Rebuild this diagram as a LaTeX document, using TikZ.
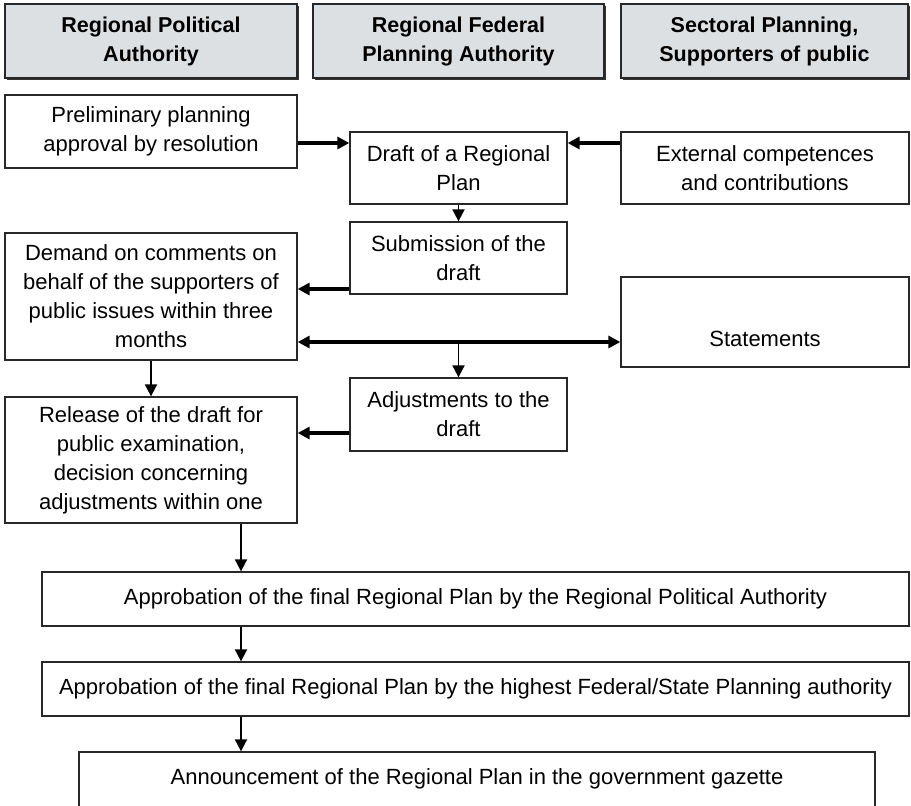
\documentclass[tikz,border=0pt]{standalone}
\usepackage{fontspec}
\setmainfont{Liberation Sans}
\usetikzlibrary{positioning}
\usetikzlibrary{arrows.meta}
\usetikzlibrary{shadows}
\definecolor{headgray}{RGB}{221,224,227}
\definecolor{edge}{RGB}{40,40,40}

\begin{document}
\begin{tikzpicture}[x=1pt,y=-1pt,
			head/.style={rectangle, draw=edge, fill=headgray, line width=1.3pt, drop shadow={shadow xshift=1.5pt, shadow yshift=-1.5pt, fill=black!80, opacity=1}, align=center, inner sep=0pt, font=\fontsize{21.5}{29}\selectfont\bfseries},
			box/.style={rectangle, draw=edge, fill=white, line width=1.3pt, align=center, inner sep=0pt, font=\fontsize{22}{29}\selectfont},
			>={Triangle[length=12pt,width=12pt]},
			arrow/.style={->, line width=1.8pt},
			heavy/.style={line width=3.2pt}
		]
			\useasboundingbox (0,0) rectangle (911,806);
			\clip (0,0) rectangle (911,806);

			% Column heads
			\node[head, minimum width=292pt, minimum height=74pt] (political) at (151,41) {Regional Political\\Authority};
			\node[head, minimum width=291pt, minimum height=74pt] (federal) at (458.5,41) {Regional Federal\\Planning Authority};
			\node[head, minimum width=287pt, minimum height=74pt] (sectoral) at (764.5,41) {Sectoral Planning,\\Supporters of public};

			% Boxes
			\node[box, minimum width=292pt, minimum height=73pt] (prelim) at (151,131.5) {Preliminary planning\\approval by resolution};
			\node[box, minimum width=217pt, minimum height=72pt] (draft) at (458.5,168) {Draft of a Regional\\Plan};
			\node[box, minimum width=288pt, minimum height=72pt] (external) at (765,168) {External competences\\and contributions};
			\node[box, minimum width=217pt, minimum height=72pt] (submission) at (458.5,258) {Submission of the\\draft};
			\node[box, minimum width=292pt, minimum height=127pt] (demand) at (151,296.5) {Demand on comments on\\behalf of the supporters of\\public issues within three\\months};
			\node[box, minimum width=288pt, minimum height=90pt] (statements) at (765,322) {\mbox{}\\[20pt]Statements};
			\node[box, minimum width=217pt, minimum height=73pt] (adjust) at (458.5,414.5) {Adjustments to the\\draft};
			\node[box, minimum width=292pt, minimum height=126pt] (release) at (151,460) {Release of the draft for\\public examination,\\decision concerning\\adjustments within one};
			\node[box, minimum width=867pt, minimum height=54pt] (approRPA) at (475.5,599) {Approbation of the final Regional Plan by the Regional Political Authority};
			\node[box, minimum width=867pt, minimum height=54pt] (approFed) at (475.5,689) {Approbation of the final Regional Plan by the highest Federal/State Planning authority};
			\node[box, minimum width=796pt, minimum height=78pt] (gazette) at (477,791) {Announcement of the Regional Plan in the government gazette\\\mbox{}};

			% Arrows
			\draw[arrow, heavy] ([yshift=-11.5pt]prelim.east) -- ([yshift=-11.5pt]prelim.east -| draft.west);
			\draw[arrow, heavy] ([yshift=25pt]external.west) -- ([yshift=25pt]external.west -| draft.east);
			\draw[arrow] (draft.south) -- (submission.north);
			\draw[arrow, heavy] ([yshift=-31pt]submission.west) -- ([yshift=-31pt]submission.west -| demand.east);
			\draw[arrow, heavy, <->] ([yshift=-45.5pt]demand.east) -- ([yshift=-45.5pt]demand.east -| statements.west);
			\coordinate (split) at ([yshift=-45.5pt]demand.east -| adjust.north);
			\draw[arrow] (split) -- (adjust.north);
			\draw[arrow] (demand.south) -- (release.north);
			\draw[arrow, heavy] ([yshift=-18.5pt]adjust.west) -- ([yshift=-18.5pt]adjust.west -| release.east);
			\coordinate (spine) at ([xshift=90pt]release.south);
			\draw[arrow] (spine) -- (spine |- approRPA.north);
			\draw[arrow] (spine |- approRPA.south) -- (spine |- approFed.north);
			\draw[arrow] (spine |- approFed.south) -- (spine |- gazette.north);
		\end{tikzpicture}
\end{document}
